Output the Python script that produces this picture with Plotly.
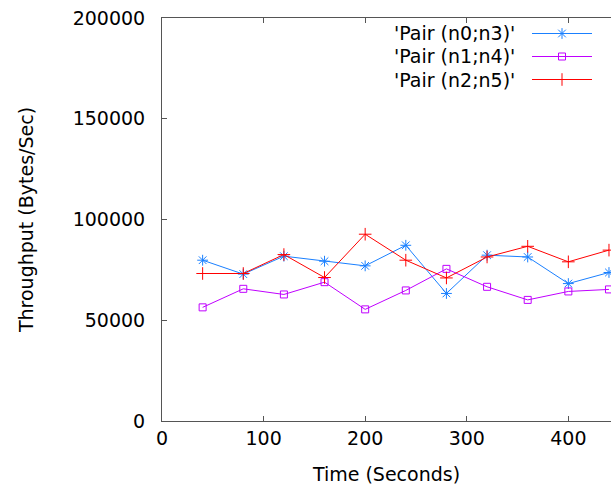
import plotly.graph_objects as go

# ---- data ----
time_s = [40, 80, 120, 160, 200, 240, 280, 320, 360, 400, 440]
pair_n0_n3 = [79800, 72900, 81800, 79300, 77000, 87200, 63300, 82300, 81400, 68200, 73700]
pair_n1_n4 = [56400, 65600, 62800, 68900, 55400, 64800, 75500, 66600, 60100, 64300, 65300]
pair_n2_n5 = [73200, 73200, 82600, 71200, 92700, 79800, 71000, 81400, 86700, 79000, 84800]
series_names = ["'Pair (n0;n3)'", "'Pair (n1;n4)'", "'Pair (n2;n5)'"]
x_ticks = [0, 100, 200, 300, 400]
y_ticks = [0, 50000, 100000, 150000, 200000]
y_tick_labels = ["0", "50000", "100000", "150000", "200000"]

colors = ["#1a80ff", "#c000ff", "#ff0000"]
symbols = ["asterisk-open", "square-open", "cross-thin-open"]
sizes = [9, 7, 9]

FONT = dict(family="DejaVu Sans", size=19, color="black")
AX = "#555555"

W, H = 611, 493
ML, MR, MT, MB = 162, 0, 18, 72
PW, PH = W - ML - MR, H - MT - MB


def px_x(p):
    return (p - ML) / PW


def px_y(p):
    return (H - MB - p) / PH


fig = go.Figure()
for name, ys, c, s, sz in zip(series_names, [pair_n0_n3, pair_n1_n4, pair_n2_n5], colors, symbols, sizes):
    fig.add_trace(go.Scatter(
        x=time_s, y=ys, mode="lines+markers", name=name,
        line=dict(color=c, width=1),
        marker=dict(symbol=s, size=sz, color=c, line=dict(color=c, width=1)),
        showlegend=False, cliponaxis=False,
    ))

# gnuplot-style key (text left, sample right)
row_y = [33.5, 56.5, 79.5]
for name, c, s, sz, yy in zip(series_names, colors, symbols, sizes, row_y):
    fig.add_shape(type="line", xref="paper", yref="paper",
                  x0=px_x(532), x1=px_x(592), y0=px_y(yy), y1=px_y(yy),
                  line=dict(color=c, width=1), layer="above")
    fig.add_trace(go.Scatter(
        x=[px_x(562)], y=[px_y(yy)], xaxis="x2", yaxis="y2", mode="markers",
        marker=dict(symbol=s, size=sz, color=c, line=dict(color=c, width=1)),
        showlegend=False, hoverinfo="skip",
    ))
    fig.add_annotation(x=px_x(517), y=px_y(yy), xref="paper", yref="paper", text=name,
                       showarrow=False, xanchor="right", yanchor="middle", font=FONT)

fig.update_layout(
    width=W, height=H,
    margin=dict(l=ML, r=MR, t=MT, b=MB),
    paper_bgcolor="white", plot_bgcolor="white",
    font=FONT,
    xaxis=dict(range=[0, 442], tickvals=x_ticks, ticks="inside", ticklen=5, tickcolor=AX,
               showline=True, linecolor=AX, linewidth=1, mirror="ticks", showgrid=False,
               zeroline=False, tickfont=FONT,
               title=dict(text="Time (Seconds)", font=FONT, standoff=19)),
    yaxis=dict(range=[0, 200000], tickvals=y_ticks, ticktext=y_tick_labels,
               ticks="inside", ticklen=5, tickcolor=AX,
               showline=True, linecolor=AX, linewidth=1, showgrid=False,
               zeroline=False, tickfont=FONT, ticklabelstandoff=12,
               title=dict(text="Throughput (Bytes/Sec)", font=FONT, standoff=34)),
    xaxis2=dict(range=[0, 1], overlaying="x", anchor="y2", visible=False),
    yaxis2=dict(range=[0, 1], overlaying="y", anchor="x2", visible=False),
)

fig.write_html("out.html")
